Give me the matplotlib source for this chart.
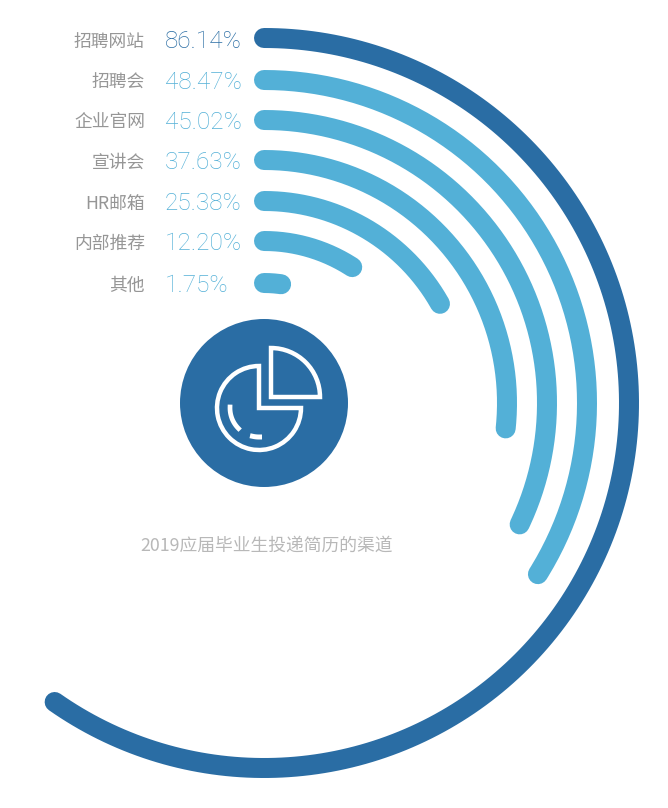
import numpy as np
import matplotlib
matplotlib.use('Agg')
import matplotlib.pyplot as plt
from matplotlib.patches import Circle, Wedge

# data
channels = ['招聘网站', '招聘会', '企业官网', '宣讲会', 'HR邮箱', '内部推荐', '其他']
shares = [86.14, 48.47, 45.02, 37.63, 25.38, 12.20, 1.75]
# sweep of each arc as read off the picture, not quite proportional to the shares
sweep_deg = [215.0, 122.0, 115.4, 96.0, 60.6, 33.0, 8.2]
title = '2019应届毕业生投递简历的渠道'

W, H = 668, 808
dark = '#2a6da4'
light = '#53b0d7'
grey = '#969696'

radii = [365, 323, 283, 243, 202, 162, 120]
row_y = [39, 80, 120, 160, 201, 241, 283]
cx, cy, R = 264, 403, 400

plt.rcParams['font.family'] = ['Noto Sans CJK SC', 'DejaVu Sans']

fig = plt.figure(figsize=(W / 100, H / 100), dpi=100, facecolor='white')

# arcs on a polar axes, 12 o'clock, clockwise
ax = fig.add_axes([(cx - R) / W, (H - cy - R) / H, 2 * R / W, 2 * R / H], projection='polar')
ax.set_theta_zero_location('N')
ax.set_theta_direction(-1)
ax.set_ylim(0, R)
ax.axis('off')
for i in range(len(sweep_deg)):
    theta = np.linspace(0, np.deg2rad(sweep_deg[i]), 200)
    ax.plot(theta, np.full(200, radii[i]), color=dark if i == 0 else light,
            lw=14.4, solid_capstyle='round', clip_on=False)

# overlay in picture pixels (y flipped by hand)
ov = fig.add_axes([0, 0, 1, 1])
ov.set_xlim(0, W)
ov.set_ylim(0, H)
ov.axis('off')
ov.patch.set_alpha(0)

for i in range(len(channels)):
    ov.text(145, H - row_y[i] - 2.5, channels[i], ha='right', va='center', fontsize=12.8,
            color=grey, fontweight='light')
    ov.text(165, H - row_y[i] - 2.5, '%.2f%%' % shares[i], ha='left', va='center', fontsize=17.6,
            color=dark if i == 0 else light, family=['Roboto', 'DejaVu Sans'], fontweight='light')

ov.text(267, H - 546, title, ha='center', va='center', fontsize=12.8, color='#b8b8b8',
        fontweight='light')

# icon
ov.add_patch(Circle((264, H - 403), 84, fc=dark, ec='none'))
ov.add_patch(Wedge((271, H - 397), 49, 0, 90, fc='none', ec='white', lw=3.2))
ov.add_patch(Wedge((259, H - 408), 42, 90, 360, fc='none', ec='white', lw=3.2))
a = np.deg2rad(np.linspace(178, 225, 30))
ov.plot(259 + 29 * np.cos(a), H - 408 + 29 * np.sin(a), color='white', lw=3.4)
a = np.deg2rad(np.linspace(257, 271, 10))
ov.plot(259 + 29 * np.cos(a), H - 408 + 29 * np.sin(a), color='white', lw=3.6)

fig.savefig('out.png', dpi=100)
